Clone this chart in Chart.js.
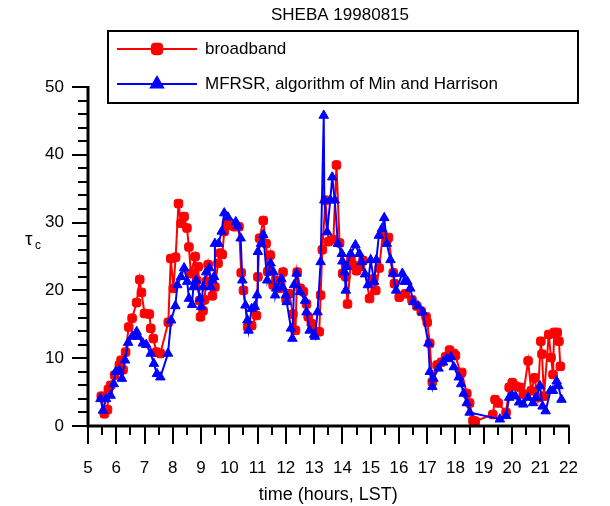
<!DOCTYPE html>
<html>
<head>
<meta charset="utf-8">
<script src="https://cdn.jsdelivr.net/npm/chart.js@4"></script>
<style>
  html, body { margin: 0; padding: 0; background: #fff; }
  #wrap { width: 610px; height: 506px; }
</style>
</head>
<body>
<div id="wrap"><canvas id="chart" width="610" height="506"></canvas></div>
<script>
const chartTitle = "SHEBA 19980815";
const seriesNames = ["broadband", "MFRSR, algorithm of Min and Harrison"];
const hourTicks = [5, 6, 7, 8, 9, 10, 11, 12, 13, 14, 15, 16, 17, 18, 19, 20, 21, 22];
const tauTicks = [0, 10, 20, 30, 40, 50];

// broadband retrieval
const bbTime = [
  5.47, 5.58, 5.69, 5.72, 5.80, 5.94, 6.11, 6.17, 6.24, 6.33, 6.44, 6.56, 6.72, 6.83, 6.89,
  7.00, 7.17, 7.22, 7.31, 7.42, 7.56, 7.84, 7.93, 8.02, 8.10, 8.20, 8.29, 8.40, 8.50, 8.57,
  8.64, 8.79, 8.84, 8.90, 8.95, 8.98, 9.07, 9.12, 9.18, 9.25, 9.40, 9.49, 9.60, 9.68, 9.75,
  9.82, 9.90, 10.05, 10.18, 10.34, 10.42, 10.50, 10.65, 10.79, 10.96, 11.01, 11.07, 11.20,
  11.30, 11.36, 11.45, 11.55, 11.65, 11.79, 11.90, 12.01, 12.12, 12.25, 12.34, 12.40, 12.51,
  12.62, 12.73, 12.79, 12.90, 13.07, 13.18, 13.23, 13.29, 13.40, 13.51, 13.68, 13.79, 13.90,
  14.01, 14.12, 14.18, 14.30, 14.40, 14.50, 14.62, 14.73, 14.96, 15.10, 15.18, 15.30, 15.43,
  15.57, 15.63, 15.80, 15.84, 16.01, 16.22, 16.46, 16.63, 16.79, 16.96, 17.00, 17.09, 17.18,
  17.35, 17.50, 17.65, 17.79, 17.94, 18.00, 18.18, 18.22, 18.40, 18.50, 18.62, 18.70, 19.32,
  19.40, 19.51, 19.79, 19.90, 20.01, 20.12, 20.29, 20.40, 20.57, 20.68, 20.80, 20.91, 21.02,
  21.06, 21.13, 21.30, 21.38, 21.45, 21.49, 21.60, 21.66, 21.71
];
const bbTau = [
  4.4, 1.8, 2.4, 5.4, 6.0, 7.5, 9.0, 9.7, 8.3, 10.9, 14.6, 15.9, 18.2, 21.6, 19.7,
  16.6, 16.5, 14.4, 12.9, 10.9, 10.7, 15.3, 24.7, 20.3, 24.9, 32.8, 29.9, 30.9, 29.2, 26.4,
  22.5, 25.0, 21.5, 23.5, 18.5, 16.1, 17.0, 18.6, 21.3, 23.8, 19.2, 20.5, 24.0, 25.5, 25.3,
  28.7, 29.9, 29.6, 29.4, 29.4, 22.6, 20.0, 14.6, 14.8, 16.3, 22.0, 27.7, 30.3,
  26.9, 22.8, 25.2, 20.8, 21.5, 20.3, 22.7, 18.6, 19.5, 16.5, 14.1, 22.7, 20.3,
  19.8, 18.0, 16.1, 15.1, 13.9, 13.9, 19.3, 26.0, 33.3, 27.2, 27.5, 38.5, 27.0,
  22.5, 22.0, 18.0, 24.5, 23.7, 22.9, 23.5, 24.4, 18.8, 21.7, 20.0, 23.3, 28.3,
  27.4, 27.8, 22.6, 21.0, 19.0, 19.5, 18.6, 17.7, 16.9, 16.1, 15.3, 12.2, 6.5,
  9.0, 9.4, 10.2, 11.2, 10.7, 10.4, 7.7, 7.9, 4.8, 3.4, 0.8, 0.7, 1.7,
  3.9, 3.4, 2.0, 5.7, 6.4, 5.9, 5.7, 4.7, 9.6, 5.2, 7.1, 4.2, 12.5,
  10.6, 4.4, 13.5, 10.1, 7.6, 13.8, 13.8, 12.5, 8.8
];

// MFRSR retrieval
const mfTime = [
  5.44, 5.53, 5.64, 5.80, 5.91, 5.98, 6.11, 6.20, 6.31, 6.42, 6.56, 6.72, 6.78, 6.94, 7.06,
  7.22, 7.33, 7.44, 7.56, 7.83, 7.94, 8.09, 8.16, 8.29, 8.40, 8.51, 8.57, 8.68, 8.73, 8.82,
  8.96, 9.01, 9.07, 9.18, 9.29, 9.34, 9.40, 9.46, 9.49, 9.62, 9.73, 9.82, 9.95, 10.23, 10.29,
  10.40, 10.46, 10.57, 10.64, 10.68, 10.79, 10.90, 10.98, 11.01, 11.12, 11.20, 11.34, 11.46,
  11.56, 11.62, 11.66, 11.84, 11.88, 12.00, 12.03, 12.18, 12.23, 12.29, 12.38, 12.50, 12.68,
  12.73, 12.84, 13.00, 13.03, 13.12, 13.23, 13.34, 13.36, 13.46, 13.57, 13.64, 13.73, 13.84,
  13.98, 14.00, 14.07, 14.12, 14.15, 14.29, 14.46, 14.60, 14.68, 14.80, 14.90, 15.00, 15.12,
  15.20, 15.29, 15.40, 15.48, 15.57, 15.70, 15.79, 15.90, 16.12, 16.20, 16.30, 16.40, 16.51,
  16.67, 16.84, 17.04, 17.09, 17.18, 17.22, 17.40, 17.56, 17.68, 17.84, 17.94, 18.12, 18.20,
  18.29, 18.40, 18.50, 19.57, 19.79, 19.90, 20.00, 20.12, 20.25, 20.40, 20.57, 20.74, 20.85,
  20.99, 21.08, 21.19, 21.36, 21.45, 21.58, 21.64, 21.75
];
const mfTau = [
  4.0, 2.3, 4.0, 4.5, 6.2, 8.0, 8.2, 7.0, 9.7, 12.3, 13.2, 13.9, 13.2, 12.2, 12.0,
  10.7, 9.2, 7.7, 7.2, 10.7, 15.6, 17.7, 20.8, 22.0, 23.3, 21.3, 18.8, 17.9, 20.5, 21.5,
  18.8, 17.6, 20.5, 22.7, 23.3, 20.5, 21.5, 22.0, 26.9, 26.9, 28.7, 31.4, 30.8, 30.1, 29.5,
  27.7, 21.5, 17.8, 15.6, 14.1, 17.3, 17.6, 19.3, 25.7, 26.9, 28.2, 21.5, 24.0,
  22.7, 19.3, 20.3, 21.7, 20.5, 19.3, 18.3, 14.4, 12.9, 20.8, 22.5, 19.8, 18.5,
  16.8, 14.1, 13.5, 13.2, 16.8, 24.2, 45.8, 33.3, 28.6, 33.3, 36.7, 33.3, 26.9,
  25.4, 24.3, 22.7, 20.0, 23.5, 25.4, 26.7, 25.4, 24.2, 22.4, 20.8, 24.5, 21.3,
  24.5, 28.1, 29.1, 30.7, 26.9, 24.5, 22.5, 20.0, 22.5, 21.3, 21.3, 20.3, 18.3,
  17.7, 16.8, 12.2, 8.0, 5.8, 7.0, 8.5, 9.4, 9.9, 10.2, 8.7, 7.2, 6.2,
  4.8, 3.4, 2.0, 1.0, 1.5, 4.2, 4.5, 4.4, 3.5, 3.2, 4.2, 3.4, 4.2,
  5.9, 2.9, 2.2, 5.2, 5.2, 6.6, 5.9, 3.9
];

const toPoints = (xs, ys) => xs.map((x, i) => ({ x: x, y: ys[i] }));
const FONT = "'Liberation Sans', Arial, sans-serif";

const framePlugin = {
  id: "frame",
  afterDraw(chart) {
    const ctx = chart.ctx;
    const xs = chart.scales.x;
    const ys = chart.scales.y;
    const a = chart.chartArea;
    ctx.save();
    ctx.strokeStyle = "#000";
    ctx.lineCap = "butt";
    // axis lines
    ctx.lineWidth = 3;
    ctx.beginPath();
    ctx.moveTo(a.left, ys.getPixelForValue(tauTicks[tauTicks.length - 1]) - 1);
    ctx.lineTo(a.left, a.bottom);
    ctx.lineTo(xs.getPixelForValue(hourTicks[hourTicks.length - 1]) + 1, a.bottom);
    ctx.stroke();
    // ticks, minor every 2 units / half hour
    ctx.lineWidth = 2;
    ctx.beginPath();
    for (let v = tauTicks[0]; v <= tauTicks[tauTicks.length - 1]; v += 2) {
      const y = Math.round(ys.getPixelForValue(v));
      const len = tauTicks.includes(v) ? 16 : 10;
      ctx.moveTo(a.left - len, y);
      ctx.lineTo(a.left, y);
    }
    for (let h = hourTicks[0]; h <= hourTicks[hourTicks.length - 1]; h += 0.5) {
      const x = Math.round(xs.getPixelForValue(h));
      const len = hourTicks.includes(h) ? 18 : 9;
      ctx.moveTo(x, a.bottom);
      ctx.lineTo(x, a.bottom + len);
    }
    ctx.stroke();

    // title
    ctx.fillStyle = "#000";
    ctx.textAlign = "center";
    ctx.textBaseline = "middle";
    ctx.font = "17px " + FONT;
    ctx.fillText(chartTitle, 340, 15);

    // y axis title: tau with subscript c
    ctx.font = "19px " + FONT;
    ctx.textAlign = "left";
    ctx.fillText("τ", 25, 240);
    ctx.font = "12px " + FONT;
    ctx.fillText("c", 35, 246);

    // legend box
    ctx.lineWidth = 2;
    ctx.strokeRect(108, 31, 470, 72);
    const rows = [
      { y: 49, color: "#ff0000", style: "rectRounded", r: 6 },
      { y: 84, color: "#0000ff", style: "triangle", r: 7 }
    ];
    rows.forEach((row, i) => {
      ctx.strokeStyle = row.color;
      ctx.fillStyle = row.color;
      ctx.lineWidth = 2;
      ctx.beginPath();
      ctx.moveTo(117, row.y);
      ctx.lineTo(197, row.y);
      ctx.stroke();
      Chart.helpers.drawPoint(ctx, { pointStyle: row.style, radius: row.r, borderWidth: 1 }, 157, row.y);
      ctx.fillStyle = "#000";
      ctx.font = "17px " + FONT;
      ctx.textAlign = "left";
      ctx.textBaseline = "middle";
      ctx.fillText(seriesNames[i], 205, row.y);
    });
    ctx.restore();
  }
};

new Chart(document.getElementById("chart"), {
  type: "scatter",
  data: {
    datasets: [
      {
        label: seriesNames[1],
        data: toPoints(mfTime, mfTau),
        showLine: true,
        borderColor: "#0000ff",
        backgroundColor: "#0000ff",
        borderWidth: 2,
        pointStyle: "triangle",
        pointRadius: 5.5,
        pointBorderWidth: 1,
        order: 0,
        clip: false
      },
      {
        label: seriesNames[0],
        data: toPoints(bbTime, bbTau),
        showLine: true,
        borderColor: "#ff0000",
        backgroundColor: "#ff0000",
        borderWidth: 2,
        pointStyle: "rectRounded",
        pointRadius: 5,
        pointBorderWidth: 1,
        order: 1,
        clip: false
      }
    ]
  },
  options: {
    responsive: false,
    animation: false,
    events: [],
    layout: { padding: { top: 87, right: 12, left: 0, bottom: 0 } },
    plugins: {
      legend: { display: false },
      title: { display: false },
      tooltip: { enabled: false }
    },
    scales: {
      x: {
        type: "linear",
        min: hourTicks[0],
        max: hourTicks[hourTicks.length - 1],
        afterFit: (scale) => { scale.height = 80; },
        afterBuildTicks: (scale) => { scale.ticks = hourTicks.map((v) => ({ value: v })); },
        grid: { display: false, drawTicks: false },
        border: { display: false },
        ticks: {
          color: "#000",
          font: { family: FONT, size: 17 },
          padding: 32,
          maxRotation: 0,
          autoSkip: false
        },
        title: {
          display: true,
          text: "time (hours, LST)",
          color: "#000",
          font: { family: FONT, size: 18 },
          padding: 0
        }
      },
      y: {
        type: "linear",
        min: tauTicks[0],
        max: tauTicks[tauTicks.length - 1],
        afterFit: (scale) => { scale.width = 88; },
        afterBuildTicks: (scale) => { scale.ticks = tauTicks.map((v) => ({ value: v })); },
        grid: { display: false, drawTicks: false },
        border: { display: false },
        ticks: {
          color: "#000",
          font: { family: FONT, size: 17 },
          padding: 24
        }
      }
    }
  },
  plugins: [framePlugin]
});
</script>
</body>
</html>
